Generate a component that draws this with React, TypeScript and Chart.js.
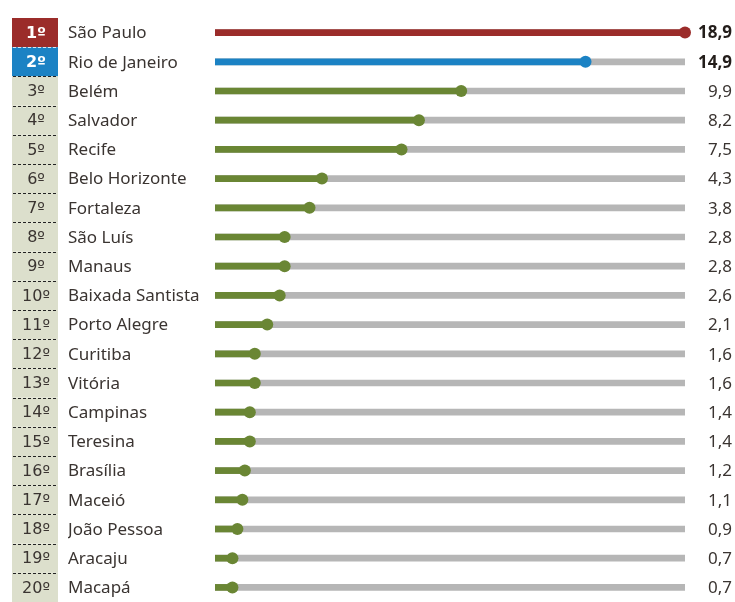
import React, { useEffect, useRef } from "react";
import { Chart, registerables } from "chart.js";

Chart.register(...registerables);

const cities = [
  "São Paulo", "Rio de Janeiro", "Belém", "Salvador", "Recife", "Belo Horizonte",
  "Fortaleza", "São Luís", "Manaus", "Baixada Santista", "Porto Alegre", "Curitiba",
  "Vitória", "Campinas", "Teresina", "Brasília", "Maceió", "João Pessoa", "Aracaju", "Macapá",
];
const values = [18.9, 14.9, 9.9, 8.2, 7.5, 4.3, 3.8, 2.8, 2.8, 2.6, 2.1, 1.6, 1.6, 1.4, 1.4, 1.2, 1.1, 0.9, 0.7, 0.7];
const valueLabels = ["18,9", "14,9", "9,9", "8,2", "7,5", "4,3", "3,8", "2,8", "2,8", "2,6", "2,1", "1,6", "1,6", "1,4", "1,4", "1,2", "1,1", "0,9", "0,7", "0,7"];
const ranks = ["1º", "2º", "3º", "4º", "5º", "6º", "7º", "8º", "9º", "10º", "11º", "12º", "13º", "14º", "15º", "16º", "17º", "18º", "19º", "20º"];
const maxValue = 18.9;

const RED = "#9b2c2a";
const BLUE = "#1b82c4";
const GREEN = "#6a8634";
const GRAY = "#b6b6b6";
const BEIGE = "#dcdfcc";
const TEXT = "#3a3431";
const FONT = "'Noto Sans', sans-serif";
const RANK_FONT = "'DejaVu Sans', sans-serif";

const colorFor = (i: number) => (i === 0 ? RED : i === 1 ? BLUE : GREEN);

const sidePlugin = {
  id: "sideLabels",
  afterDraw(chart: any) {
    const ctx = chart.ctx;
    const y = chart.scales.y;
    const area = chart.chartArea;
    const rowH = (area.bottom - area.top) / cities.length;
    ctx.save();
    for (let i = 0; i < cities.length; i++) {
      const cy = y.getPixelForValue(i);
      const top = cy - rowH / 2;
      ctx.fillStyle = i === 0 ? RED : i === 1 ? BLUE : BEIGE;
      ctx.fillRect(12, top, 46, rowH);
      ctx.fillStyle = i < 2 ? "#ffffff" : TEXT;
      ctx.font = (i < 2 ? "bold " : "") + "16px " + RANK_FONT;
      ctx.textAlign = "center";
      ctx.textBaseline = "middle";
      ctx.fillText(ranks[i], 36, cy + 1);
      ctx.fillStyle = i < 2 ? "#231d1a" : TEXT;
      ctx.font = (i < 2 ? "bold " : "") + "17px " + FONT;
      ctx.textAlign = "right";
      ctx.fillText(valueLabels[i], 732, cy + 1);
    }
    ctx.lineWidth = 1;
    ctx.setLineDash([3, 2]);
    for (let i = 1; i < cities.length; i++) {
      const yy = Math.round(area.top + i * rowH) + 0.5;
      ctx.strokeStyle = i === 1 ? "rgba(255,255,255,0.8)" : "#222";
      ctx.beginPath();
      ctx.moveTo(13, yy);
      ctx.lineTo(57, yy);
      ctx.stroke();
    }
    ctx.restore();
  },
};

export default function App() {
  const ref = useRef<HTMLCanvasElement>(null);
  useEffect(() => {
    document.body.style.margin = "0";
    const chart = new Chart(ref.current!, {
      type: "bar",
      data: {
        labels: cities,
        datasets: [
          {
            type: "line",
            data: values,
            indexAxis: "y",
            showLine: false,
            clip: false,
            pointRadius: 6,
            pointHoverRadius: 6,
            pointBackgroundColor: values.map((_, i) => colorFor(i)),
            pointBorderWidth: 0,
            order: 1,
          } as any,
          {
            data: values,
            backgroundColor: values.map((_, i) => colorFor(i)),
            barThickness: 6,
            grouped: false,
            order: 2,
          },
          {
            data: values.map(() => maxValue),
            backgroundColor: GRAY,
            barThickness: 6,
            grouped: false,
            order: 3,
          },
        ],
      },
      options: {
        indexAxis: "y",
        animation: false,
        responsive: false,
        maintainAspectRatio: false,
        layout: { autoPadding: false, padding: { left: 68, top: 18, bottom: 0, right: 50 } },
        plugins: { legend: { display: false }, tooltip: { enabled: false } },
        scales: {
          x: { display: false, min: 0, max: maxValue, grid: { display: false } },
          y: {
            type: "category",
            grid: { display: false, drawTicks: false },
            border: { display: false },
            afterFit: (scale: any) => {
              scale.width = 147;
              scale.paddingTop = 0;
              scale.paddingBottom = 0;
            },
            ticks: {
              crossAlign: "far",
              padding: 0,
              labelOffset: 1,
              color: TEXT,
              font: { family: FONT, size: 17 },
            },
          },
        },
      },
      plugins: [sidePlugin],
    });
    return () => chart.destroy();
  }, []);
  return <canvas ref={ref} width={735} height={602} style={{ display: "block" }} />;
}
